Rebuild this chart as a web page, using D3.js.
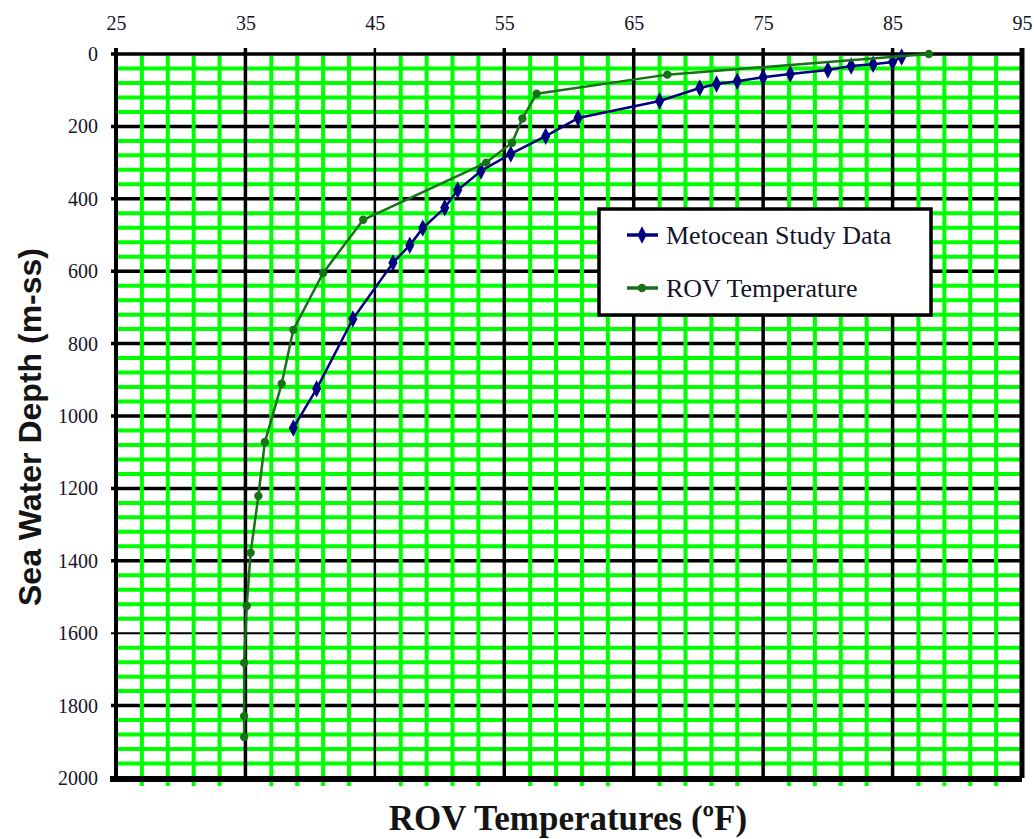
<!DOCTYPE html>
<html>
<head>
<meta charset="utf-8">
<script src="https://cdn.jsdelivr.net/npm/d3@7"></script>
<style>
  body { margin: 0; background: #fff; }
  svg { display: block; }
</style>
</head>
<body>
<svg id="chart" width="1034" height="839"></svg>
<script>
// ---- data ----
const xTicks = [25, 35, 45, 55, 65, 75, 85, 95];
const yTicks = [0, 200, 400, 600, 800, 1000, 1200, 1400, 1600, 1800, 2000];

const metoceanTemp  = [85.7, 85.0, 83.5, 81.8, 80.0, 77.1, 75.0, 73.0, 71.4, 70.1, 67.0, 60.7, 58.2, 55.5, 53.2, 51.4, 50.4, 48.7, 47.7, 46.4, 43.3, 40.5, 38.7];
const metoceanDepth = [8, 22, 28, 33, 44, 55, 64, 75, 83, 94, 130, 177, 227, 276, 323, 376, 425, 481, 528, 577, 732, 925, 1033];

const rovTemp  = [87.8, 67.6, 57.5, 56.4, 55.6, 53.6, 44.1, 41.0, 38.7, 37.8, 36.5, 36.0, 35.4, 35.1, 34.9, 34.9, 34.9];
const rovDepth = [0, 57, 110, 178, 245, 300, 458, 605, 762, 911, 1072, 1221, 1378, 1525, 1682, 1829, 1887];

const seriesNames = ["Metocean Study Data", "ROV Temperature"];

// ---- layout ----
const svg = d3.select("#chart");
const x = d3.scaleLinear().domain([25, 95]).range([116, 1022]);
const y = d3.scaleLinear().domain([0, 2000]).range([54, 778]);

const green = "#00ff00";
const blueCol = "#000080";
const greenCol = "#177217";
const serif = "Liberation Serif";

const minorX = d3.range(25, 95.01, 2).filter(v => (v - 25) % 10 !== 0);
const minorY = d3.range(0, 2000.01, 40).filter(v => v % 200 !== 0);

const grid = svg.append("g");
grid.selectAll(".gh").data(minorY).join("line")
  .attr("x1", x(25)).attr("x2", x(95))
  .attr("y1", d => y(d)).attr("y2", d => y(d))
  .attr("stroke", green).attr("stroke-width", 4);
grid.selectAll(".bh").data(yTicks.slice(1, -1)).join("line")
  .attr("x1", x(25) - 5).attr("x2", x(95))
  .attr("y1", d => y(d)).attr("y2", d => y(d))
  .attr("stroke", "#000").attr("stroke-width", d => d === 1600 ? 2 : 3.5);
grid.selectAll(".gv").data(minorX).join("line")
  .attr("x1", d => x(d)).attr("x2", d => x(d))
  .attr("y1", y(0) + 2).attr("y2", y(2000) + 8)
  .attr("stroke", green).attr("stroke-width", 4);
grid.selectAll(".bv").data(xTicks.slice(1, -1)).join("line")
  .attr("x1", d => x(d)).attr("x2", d => x(d))
  .attr("y1", y(0) - 6).attr("y2", y(2000))
  .attr("stroke", "#000").attr("stroke-width", d => d === 45 ? 2.5 : 3.5);

// frame
svg.append("line").attr("x1", x(25) - 5).attr("x2", x(95)).attr("y1", y(0)).attr("y2", y(0))
  .attr("stroke", "#000").attr("stroke-width", 3.5);
svg.append("line").attr("x1", x(25)).attr("x2", x(25)).attr("y1", y(0) - 6).attr("y2", y(2000) + 3)
  .attr("stroke", "#000").attr("stroke-width", 4);
svg.append("line").attr("x1", x(95)).attr("x2", x(95)).attr("y1", y(0) - 6).attr("y2", y(2000))
  .attr("stroke", "#000").attr("stroke-width", 5);
svg.append("line").attr("x1", x(25) - 6).attr("x2", x(95)).attr("y1", y(2000) + 1).attr("y2", y(2000) + 1)
  .attr("stroke", "#000").attr("stroke-width", 6);

// axes (labels)
const topAxis = d3.axisTop(x).tickValues(xTicks).tickSize(0).tickPadding(0).tickFormat(d3.format("d"));
const gTop = svg.append("g").attr("transform", `translate(0,${y(0) - 24})`).call(topAxis);
gTop.attr("font-family", null).attr("font-size", null);
gTop.select(".domain").remove();
gTop.selectAll("text").attr("font-family", serif).attr("font-size", 20).attr("fill", "#141428");

const leftAxis = d3.axisLeft(y).tickValues(yTicks).tickSize(0).tickPadding(0).tickFormat(d3.format("d"));
const gLeft = svg.append("g").attr("transform", `translate(${x(25) - 18},0)`).call(leftAxis);
gLeft.attr("font-family", null).attr("font-size", null);
gLeft.select(".domain").remove();
gLeft.selectAll("text").attr("font-family", serif).attr("font-size", 20).attr("fill", "#141428").attr("dy", "0.32em");

// series
const blueData = metoceanTemp.map((t, i) => ({ t, d: metoceanDepth[i] }));
const greenData = rovTemp.map((t, i) => ({ t, d: rovDepth[i] }));
const line = d3.line().x(p => x(p.t)).y(p => y(p.d));

svg.append("path").datum(blueData).attr("d", line)
  .attr("fill", "none").attr("stroke", blueCol).attr("stroke-width", 2.5).attr("stroke-linejoin", "round");
svg.selectAll(".bm").data(blueData).join("path")
  .attr("d", d3.symbol(d3.symbolDiamond, 80))
  .attr("transform", p => `translate(${x(p.t)},${y(p.d)}) scale(0.95,1.05)`)
  .attr("fill", blueCol);

svg.append("path").datum(greenData).attr("d", line)
  .attr("fill", "none").attr("stroke", greenCol).attr("stroke-width", 2.5).attr("stroke-linejoin", "round");
svg.selectAll(".gm").data(greenData).join("circle")
  .attr("cx", p => x(p.t)).attr("cy", p => y(p.d)).attr("r", 4.2)
  .attr("fill", greenCol);

// legend
const lg = svg.append("g");
lg.append("rect").attr("x", 599).attr("y", 209).attr("width", 332).attr("height", 106)
  .attr("fill", "#fff").attr("stroke", "#000").attr("stroke-width", 3.5);
const legendRows = [
  { name: seriesNames[0], color: blueCol, y: 235, sym: "diamond" },
  { name: seriesNames[1], color: greenCol, y: 288, sym: "circle" }
];
legendRows.forEach(r => {
  lg.append("line").attr("x1", 627).attr("x2", 658).attr("y1", r.y).attr("y2", r.y)
    .attr("stroke", r.color).attr("stroke-width", 3.5);
  if (r.sym === "diamond") {
    lg.append("path").attr("d", d3.symbol(d3.symbolDiamond, 80))
      .attr("transform", `translate(642,${r.y}) scale(0.95,1.05)`).attr("fill", r.color);
  } else {
    lg.append("circle").attr("cx", 642).attr("cy", r.y).attr("r", 4.2).attr("fill", r.color);
  }
  lg.append("text").attr("x", 666).attr("y", r.y + 9).text(r.name)
    .attr("font-family", serif).attr("font-size", 26).attr("fill", "#141428");
});

// titles
svg.append("text").attr("x", 568).attr("y", 830).attr("text-anchor", "middle")
  .attr("font-family", serif).attr("font-weight", "bold").attr("font-size", 35)
  .attr("fill", "#141414")
  .text("ROV Temperatures (ºF)");
svg.append("text").attr("transform", "translate(41,427) rotate(-90)").attr("text-anchor", "middle")
  .attr("font-family", "Liberation Sans").attr("font-weight", "bold").attr("font-size", 32)
  .attr("fill", "#141414")
  .text("Sea Water Depth (m-ss)");
</script>
</body>
</html>
